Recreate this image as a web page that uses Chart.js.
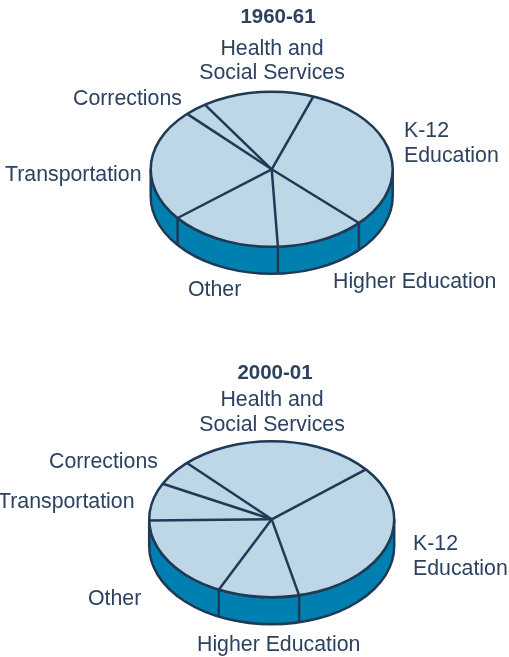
<!DOCTYPE html>
<html>
<head>
<meta charset="utf-8">
<script src="https://cdn.jsdelivr.net/npm/chart.js@4"></script>
<style>
  html, body { margin: 0; padding: 0; background: #fff; overflow: hidden; }
  canvas { position: absolute; left: 0; top: 0; }
</style>
</head>
<body>
<canvas id="pie1" width="509" height="657"></canvas>
<canvas id="pie2" width="509" height="657"></canvas>
<script>
const categories = ['K-12 Education', 'Higher Education', 'Other', 'Transportation', 'Corrections', 'Health and Social Services'];
const values1960 = [31.6, 12, 15, 23.5, 3, 14.9];
const values2000 = [32.4, 10.7, 17.6, 7.8, 5.3, 26.1];

const INK = '#1f3a56';
const TEXT = '#2c4260';
const TOP = '#bdd7e7';
const SIDE = '#0080b0';

// the arcs come out of chart.js as circles, squash them and add the rim by hand
const tiltPlugin = {
  id: 'tilt',
  beforeDatasetsDraw(chart, args, opts) {
    const ctx = chart.ctx;
    const arcs = chart.getDatasetMeta(0).data;
    const { x, y, outerRadius: rx } = arcs[0];
    const ry = opts.ry, depth = opts.depth;

    ctx.save();
    ctx.beginPath();
    ctx.ellipse(x, y, rx, ry, 0, 0, Math.PI);
    ctx.ellipse(x, y + depth, rx, ry, 0, Math.PI, 0, true);
    ctx.closePath();
    ctx.fillStyle = SIDE;
    ctx.fill();
    ctx.strokeStyle = INK;
    ctx.lineWidth = opts.line;
    ctx.stroke();
    arcs.forEach(a => {
      if (Math.sin(a.startAngle) > 0) {
        const px = x + rx * Math.cos(a.startAngle);
        const py = y + ry * Math.sin(a.startAngle);
        ctx.beginPath();
        ctx.moveTo(px, py);
        ctx.lineTo(px, py + depth);
        ctx.stroke();
      }
    });
    ctx.restore();

    ctx.save();
    ctx.translate(x, y);
    ctx.scale(1, ry / rx);
    ctx.translate(-x, -y);
  },
  afterDatasetsDraw(chart, args, opts) {
    const ctx = chart.ctx;
    ctx.restore();
    const arcs = chart.getDatasetMeta(0).data;
    const { x, y, outerRadius: rx } = arcs[0];
    const ry = opts.ry;

    ctx.save();
    ctx.strokeStyle = INK;
    ctx.lineWidth = opts.line;
    ctx.beginPath();
    ctx.ellipse(x, y, rx, ry, 0, 0, Math.PI * 2);
    ctx.stroke();
    arcs.forEach(a => {
      ctx.beginPath();
      ctx.moveTo(x, y);
      ctx.lineTo(x + rx * Math.cos(a.startAngle), y + ry * Math.sin(a.startAngle));
      ctx.stroke();
    });
    ctx.restore();
  },
  afterDraw(chart, args, opts) {
    const ctx = chart.ctx;
    ctx.save();
    ctx.fillStyle = TEXT;
    ctx.textBaseline = 'middle';
    opts.labels.forEach(l => {
      ctx.font = (l.bold ? 'bold 20.5' : opts.fontSize) + 'px "Liberation Sans", Arial, sans-serif';
      ctx.textAlign = l.align || 'left';
      ctx.fillText(l.text, l.x, l.y);
    });
    ctx.restore();
  }
};

function makePie(id, values, rotation, padding, rx, ry, depth, labels) {
  return new Chart(document.getElementById(id), {
    type: 'pie',
    data: {
      labels: categories,
      datasets: [{
        data: values,
        backgroundColor: TOP,
        borderWidth: 0,
        clip: false
      }]
    },
    options: {
      responsive: false,
      animation: false,
      rotation: rotation,
      radius: rx,
      layout: { padding: padding },
      plugins: {
        legend: { display: false },
        tooltip: { enabled: false },
        title: { display: false },
        tilt: { ry: ry, depth: depth, line: 2.5, fontSize: 21.3, labels: labels }
      }
    },
    plugins: [tiltPlugin]
  });
}

makePie('pie1', values1960, 20.1, { left: 34.4, bottom: 318.4 }, 121, 77.5, 27, [
  { text: '1960-61', x: 278, y: 17, align: 'center', bold: true },
  { text: 'Health and', x: 272, y: 49, align: 'center' },
  { text: 'Social Services', x: 272, y: 73, align: 'center' },
  { text: 'Corrections', x: 73, y: 99 },
  { text: 'K-12', x: 404, y: 131 },
  { text: 'Education', x: 404, y: 156 },
  { text: 'Transportation', x: 5, y: 175 },
  { text: 'Other', x: 188, y: 290 },
  { text: 'Higher Education', x: 333, y: 282 }
]);

makePie('pie2', values2000, 50.3, { left: 34.4, top: 381.6 }, 122.5, 78, 27, [
  { text: '2000-01', x: 275, y: 373, align: 'center', bold: true },
  { text: 'Health and', x: 272, y: 400, align: 'center' },
  { text: 'Social Services', x: 272, y: 425, align: 'center' },
  { text: 'Corrections', x: 49, y: 462 },
  { text: 'Transportation', x: -2, y: 502 },
  { text: 'K-12', x: 413, y: 544 },
  { text: 'Education', x: 413, y: 569 },
  { text: 'Other', x: 88, y: 599 },
  { text: 'Higher Education', x: 197, y: 645 }
]);
</script>
</body>
</html>
